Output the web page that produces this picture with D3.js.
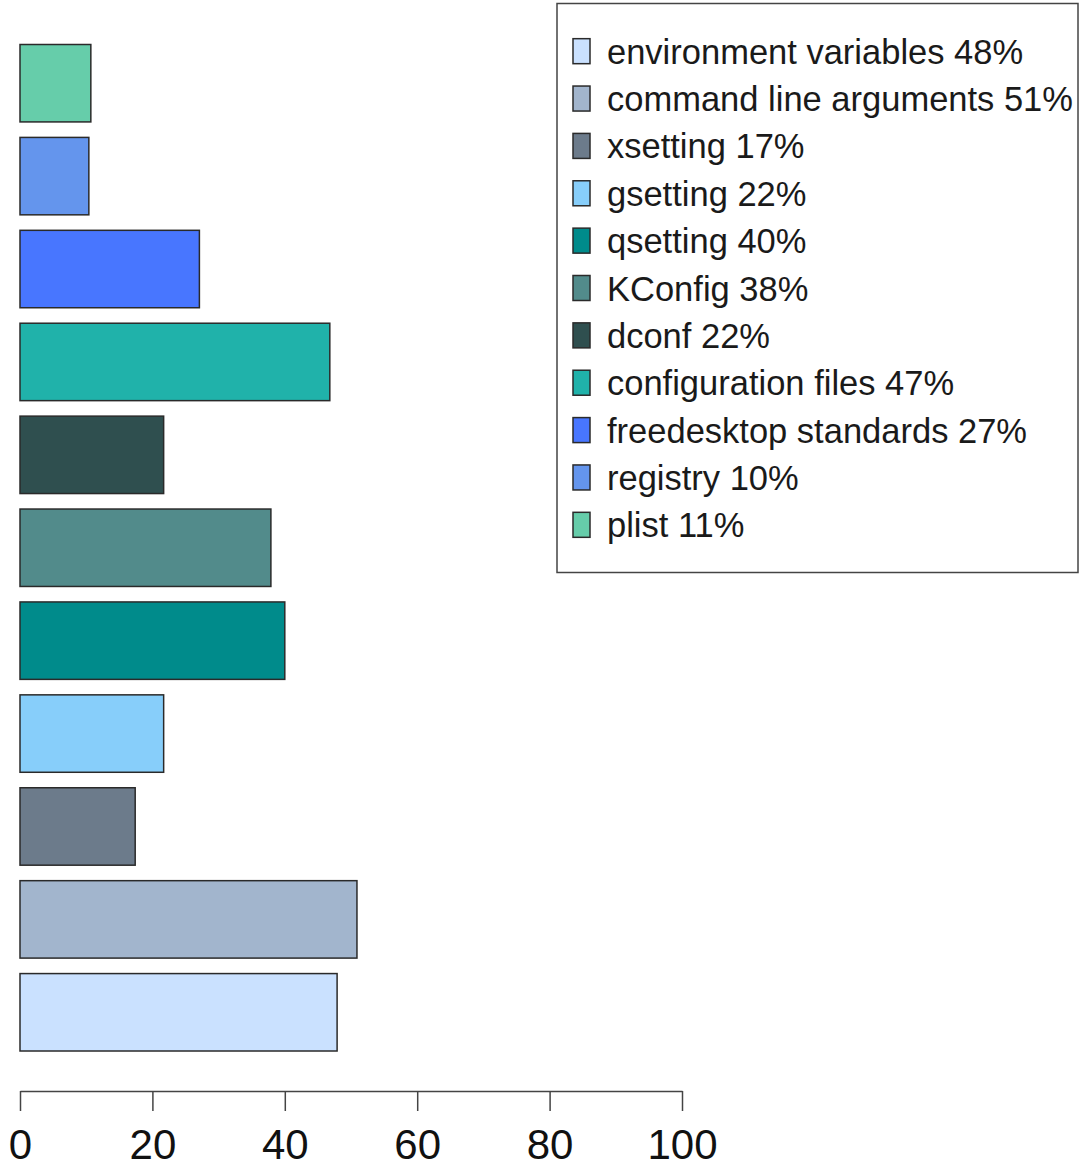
<!DOCTYPE html>
<html>
<head>
<meta charset="utf-8">
<script src="https://cdn.jsdelivr.net/npm/d3@7"></script>
<style>
  body { margin: 0; background: #fff; }
  svg text { font-family: "Liberation Sans", Arial, sans-serif; }
</style>
</head>
<body>
<div id="chart"></div>
<script>
// legend order: bottom bar first
const categories = ['environment variables', 'command line arguments', 'xsetting', 'gsetting',
  'qsetting', 'KConfig', 'dconf', 'configuration files', 'freedesktop standards', 'registry', 'plist'];
const values = [47.9, 50.9, 17.4, 21.7, 40.0, 37.9, 21.7, 46.8, 27.1, 10.4, 10.7];
const colors = ['#CAE1FF', '#A2B5CD', '#6C7B8B', '#87CEFA', '#008B8B', '#528B8B',
  '#2F4F4F', '#20B2AA', '#4876FF', '#6495ED', '#66CDAA'];
const xTicks = [0, 20, 40, 60, 80, 100];

const width = 1082, height = 1168;

const svg = d3.select('#chart')
    .append('svg')
    .attr('width', width)
    .attr('height', height);

// scales
const x = d3.scaleLinear()
    .domain([0, 100])
    .range([20, 682]);

const y = d3.scaleBand()
    .domain(categories.slice().reverse())   // plist on top
    .range([44.5, 1051])
    .paddingInner(0.2 / 1.2)
    .paddingOuter(0);

// bars
svg.selectAll('rect.bar')
    .data(categories)
    .enter()
    .append('rect')
    .attr('class', 'bar')
    .attr('x', x(0))
    .attr('y', d => y(d))
    .attr('width', (d, i) => x(values[i]) - x(0))
    .attr('height', y.bandwidth())
    .attr('fill', (d, i) => colors[i])
    .attr('stroke', '#2a2a2a')
    .attr('stroke-width', 1.5);

// x axis
const xAxis = d3.axisBottom(x)
    .tickValues(xTicks)
    .tickSize(20)
    .tickSizeOuter(0)
    .tickPadding(18.5);

const xAxisGroup = svg.append('g')
    .attr('transform', 'translate(0, 1091)')
    .call(xAxis);

xAxisGroup.select('.domain')
    .attr('stroke', '#444')
    .attr('stroke-width', 1.5);
xAxisGroup.selectAll('.tick line')
    .attr('stroke', '#444')
    .attr('stroke-width', 1.5);
xAxisGroup.selectAll('text')
    .style('font-size', '42px')
    .attr('fill', '#111');

// legend
const legend = svg.append('g');

legend.append('rect')
    .attr('x', 557)
    .attr('y', 3.5)
    .attr('width', 521)
    .attr('height', 569)
    .attr('fill', 'none')
    .attr('stroke', '#444')
    .attr('stroke-width', 1.5);

const row = d3.scaleBand()
    .domain(categories)
    .range([27.5, 548.5]);

const items = legend.selectAll('g.item')
    .data(categories)
    .enter()
    .append('g')
    .attr('class', 'item')
    .attr('transform', d => `translate(0, ${row(d) + row.bandwidth() / 2})`);

items.append('rect')
    .attr('x', 573)
    .attr('y', -12.5)
    .attr('width', 17)
    .attr('height', 25)
    .attr('fill', (d, i) => colors[i])
    .attr('stroke', '#2a2a2a')
    .attr('stroke-width', 1.5);

items.append('text')
    .attr('x', 607)
    .attr('y', 12.5)
    .style('font-size', '34.5px')
    .attr('fill', '#1a1a1a')
    .text((d, i) => `${d} ${Math.round(values[i])}%`);
</script>
</body>
</html>
